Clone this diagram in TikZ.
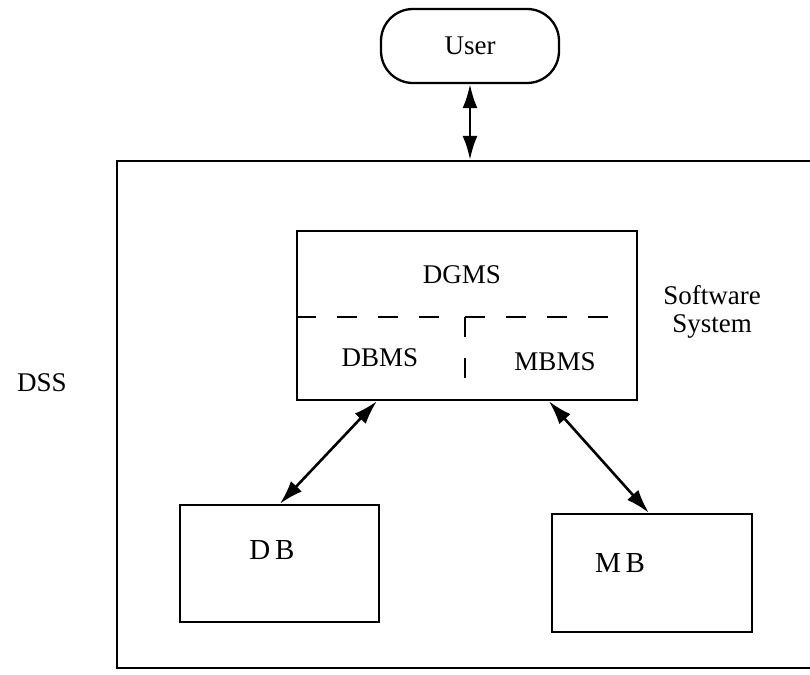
\documentclass[tikz,border=0pt]{standalone}
\usepackage{fontspec}
\setmainfont{Liberation Serif}
\usetikzlibrary{arrows.meta}
\begin{document}
\begin{tikzpicture}[x=1pt,y=-1pt,
  box/.style={draw, line width=2.3pt, rectangle, inner sep=0pt},
  lbl/.style={font=\fontsize{27}{28}\selectfont, inner sep=0pt},
  link/.style={line width=2.6pt, {Latex[length=24pt,width=15pt]}-{Latex[length=24pt,width=15pt]}},
  divider/.style={line width=2.2pt, dash pattern=on 20pt off 21pt}]
\useasboundingbox (0,0) rectangle (810,674);
\clip (0,0) rectangle (810,674);

% user terminal
\node[draw, line width=2.3pt, rounded corners=32pt, minimum width=178pt,
      minimum height=74pt, lbl] (user) at (470,46) {User};

% outer DSS frame (runs off the right edge)
\node[box, minimum width=723pt, minimum height=507pt] (dss) at (478.5,414.5) {};
\node[lbl] (dsslabel) at (42,383) {DSS};

% software system block
\node[box, minimum width=340pt, minimum height=169pt] (dgms) at (467,315.5) {};
\node[lbl] (dgmslabel) at (462,275) {DGMS};
\node[lbl] (dbmslabel) at (380,358) {DBMS};
\node[lbl] (mbmslabel) at (555,362) {MBMS};
\node[lbl, align=center] (swlabel) at (712,312) {Software\\System};

\coordinate (split) at (465,317);
\draw[divider] (split -| dgms.west) -- (445,317);
\draw[divider] (split) -- (612,317);
\draw[divider] (split) -- (465,385);

% data base and model base
\node[box, minimum width=199pt, minimum height=117pt] (db) at (279.5,563.5) {};
\node[lbl, font=\fontsize{29}{30}\selectfont] (dblabel) at (272,550) {D\,B};
\node[box, minimum width=200pt, minimum height=118pt] (mb) at (652,573) {};
\node[lbl, font=\fontsize{29}{30}\selectfont] (mblabel) at (620,563) {M\,B};

% connectors
\draw[link] (user.south) -- (user.south |- dss.north);
\draw[link] ([xshift=81pt]dgms.south west) -- ([xshift=101pt]db.north west);
\draw[link] ([xshift=253pt]dgms.south west) -- ([xshift=98pt]mb.north west);
\end{tikzpicture}
\end{document}
